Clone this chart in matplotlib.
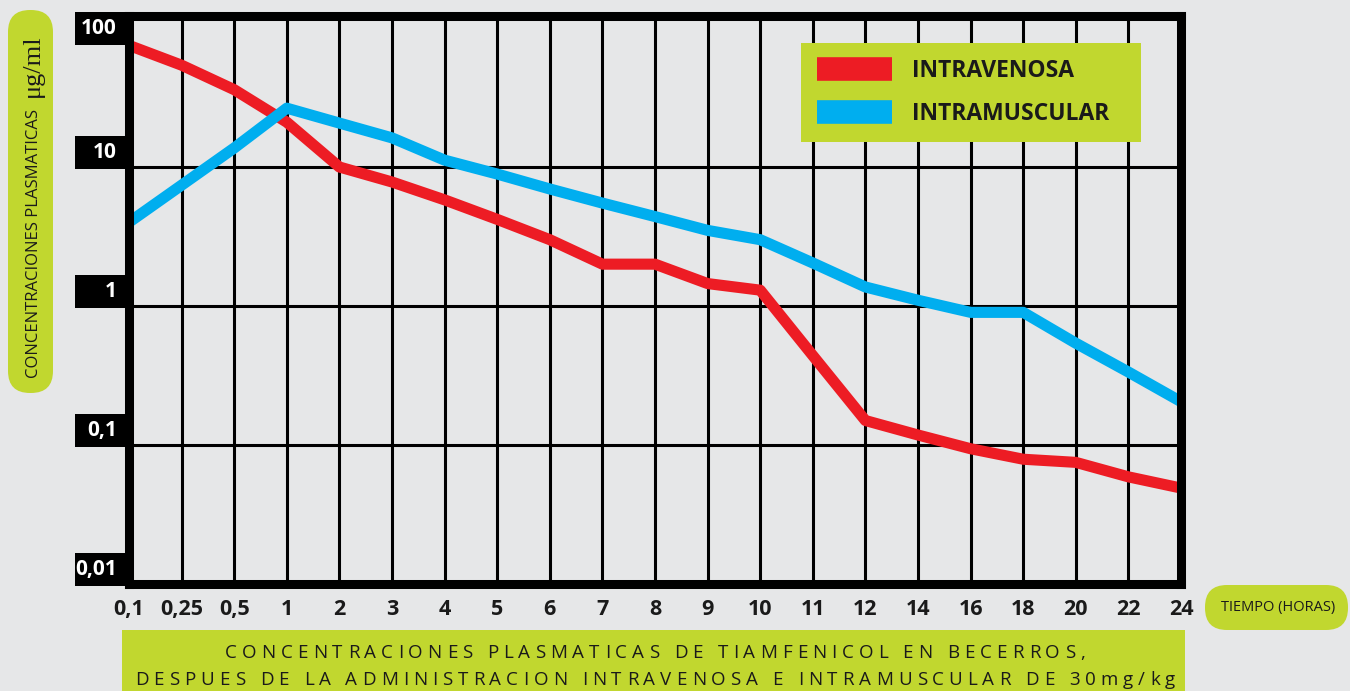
import matplotlib
matplotlib.use('Agg')
import matplotlib.pyplot as plt
from matplotlib.patches import Rectangle, FancyBboxPatch
from matplotlib.transforms import IdentityTransform
from matplotlib.lines import Line2D
from matplotlib.font_manager import FontProperties

# ---------------- data ----------------
times = ['0,1', '0,25', '0,5', '1', '2', '3', '4', '5', '6', '7', '8', '9',
         '10', '11', '12', '14', '16', '18', '20', '22', '24']
intravenosa = [75, 54, 36, 21, 10, 7.8, 5.8, 4.2, 3.0, 2.0, 2.0, 1.45, 1.3,
               0.44, 0.15, 0.118, 0.094, 0.079, 0.075, 0.059, 0.049]
intramuscular = [4.0, 7.4, 13.7, 26.5, 20.7, 16.2, 11.2, 8.9, 6.95, 5.5, 4.4,
                 3.5, 3.0, 2.04, 1.37, 1.1, 0.9, 0.9, 0.54, 0.335, 0.205]
ytick_vals = [0.01, 0.1, 1, 10, 100]
ytick_labels = ['0,01', '0,1', '1', '10', '100']
series_names = ['INTRAVENOSA', 'INTRAMUSCULAR']
ylabel_main = 'CONCENTRACIONES PLASMATICAS'
ylabel_unit = 'μg/ml'
xlabel = 'TIEMPO (HORAS)'
title_lines = ['CONCENTRACIONES PLASMATICAS DE TIAMFENICOL EN BECERROS,',
               'DESPUES DE LA ADMINISTRACION INTRAVENOSA E INTRAMUSCULAR DE 30mg/kg']

# ---------------- style ----------------
BG = '#e6e7e8'
RED = '#ed1c24'
BLUE = '#00aeef'
GREEN = '#c1d72f'
INK = '#1a1a1a'
FONT = ['Open Sans', 'DejaVu Sans']

W, H = 1350, 691
fig = plt.figure(figsize=(W / 100, H / 100), dpi=100, facecolor=BG)
ID = IdentityTransform()

L, R, T, B = 129, 1181, 16, 584
ax = fig.add_axes([L / W, (H - B) / H, (R - L) / W, (B - T) / H])
ax.set_facecolor(BG)
ax.set_yscale('log')
ax.set_ylim(0.01, 10 ** (-2 + (B - T) / 139))
ax.set_xlim(0, len(times) - 1)

xs = list(range(len(times)))
for i in xs[1:-1]:
    ax.axvline(i, color='black', lw=2.2, zorder=1)
for v in ytick_vals[1:-1]:
    ax.axhline(v, color='black', lw=2.2, zorder=1)

ax.plot(xs, intravenosa, color=RED, lw=8, solid_joinstyle='round',
        solid_capstyle='butt', zorder=3)
ax.plot(xs, intramuscular, color=BLUE, lw=8, solid_joinstyle='round',
        solid_capstyle='butt', zorder=3)

for s in ax.spines.values():
    s.set_linewidth(6.5)
    s.set_color('black')
    s.set_zorder(4)

ax.set_xticks(xs)
ax.set_xticklabels(times, fontfamily=FONT, fontweight='bold', fontsize=15.5,
                   color=INK)
ax.yaxis.set_major_locator(matplotlib.ticker.NullLocator())
ax.yaxis.set_minor_locator(matplotlib.ticker.NullLocator())
ax.tick_params(axis='x', length=0, pad=11)

# legend
handles = [Line2D([], [], color=RED, lw=17, solid_capstyle='butt'),
           Line2D([], [], color=BLUE, lw=17, solid_capstyle='butt')]
leg = ax.legend(handles, series_names, loc='upper left', mode='expand',
                bbox_to_anchor=(801 / W, 1 - 140 / H, 340 / W, 97 / H),
                bbox_transform=fig.transFigure,
                frameon=True, facecolor=GREEN, edgecolor='none', fancybox=False,
                framealpha=1, prop={'family': FONT, 'weight': 'bold', 'size': 16.5},
                handlelength=3.3, handletextpad=0.85, labelspacing=0.85,
                borderpad=0.68, borderaxespad=0)
for t in leg.get_texts():
    t.set_color(INK)
leg.set_zorder(5)

# y tick label boxes
axes_top_outer = H - T + 4
for v, lab in zip(ytick_vals, ytick_labels):
    yd = ax.transData.transform((0, v))[1]
    top = min(yd - 2 + 33, axes_top_outer)
    bottom = top - 33
    fig.add_artist(Rectangle((75, bottom), L - 75, 33, facecolor='black',
                             edgecolor='none', transform=ID, zorder=6))
    fig.text(117, bottom + 16.5, lab, color='white', fontfamily=FONT,
             fontweight='bold', fontsize=15, ha='right', va='center',
             transform=ID, zorder=7)

# y label box
fig.add_artist(FancyBboxPatch((8, H - 393), 45, 383,
                              boxstyle='round,pad=0,rounding_size=22',
                              facecolor=GREEN, edgecolor='none', transform=ID))
fig.text(34, H - 243, ylabel_main, rotation=90, fontfamily=FONT, fontsize=12,
         color=INK, ha='center', va='center', transform=ID)
fig.text(33, H - 66, ylabel_unit, rotation=90,
         fontfamily=['Liberation Serif', 'DejaVu Serif'], fontsize=19,
         color=INK, ha='center', va='center', transform=ID)

# x label box
fig.add_artist(FancyBboxPatch((1205, H - 630), 143, 45,
                              boxstyle='round,pad=0,rounding_size=22',
                              facecolor=GREEN, edgecolor='none', transform=ID))
fig.text(1278, H - 608, xlabel, fontfamily=['Liberation Sans Narrow', 'Open Sans'],
         fontsize=10.5, color=INK, ha='center', va='center', transform=ID)

# title box with tracked text
fig.add_artist(Rectangle((122, 0), 1063, H - 630, facecolor=GREEN,
                         edgecolor='none', transform=ID))
renderer = fig.canvas.get_renderer()
fp = FontProperties(family=FONT, size=13.5)


def text_w(s):
    t = fig.text(0, 0, s, fontproperties=fp, transform=ID)
    w = t.get_window_extent(renderer).width
    t.remove()
    return w


cache = {}


def char_w(c):
    if c not in cache:
        if c == ' ':
            cache[c] = text_w('x x') - text_w('xx')
        else:
            cache[c] = text_w('x' + c + 'x') - text_w('xx')
    return cache[c]


line2 = title_lines[1]
base2 = sum(char_w(c) for c in line2)
tracking = (1040 - base2) / (len(line2) - 1)
for line, ybase in zip(title_lines, [H - 658, H - 685]):
    total = sum(char_w(c) for c in line) + tracking * (len(line) - 1)
    x = 655 - total / 2
    for c in line:
        if c != ' ':
            fig.text(x, ybase, c, fontproperties=fp, color=INK,
                     ha='left', va='baseline', transform=ID)
        x += char_w(c) + tracking

fig.savefig('out.png', dpi=100, facecolor=BG)
